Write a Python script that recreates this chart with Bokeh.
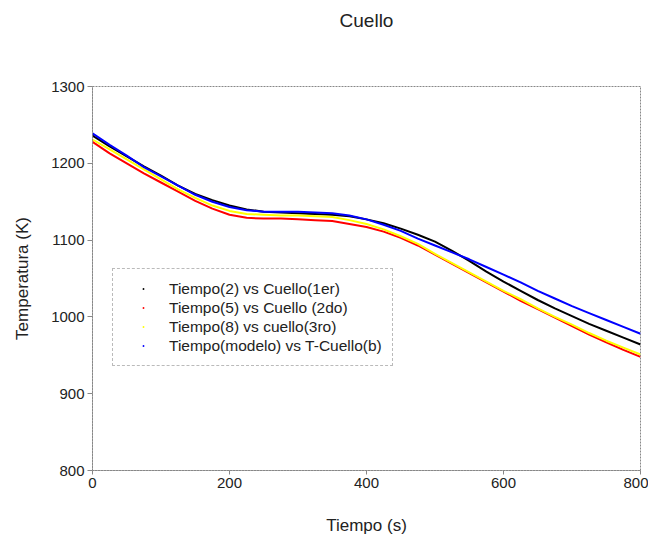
from bokeh.plotting import figure
from bokeh.models import Range1d, FixedTicker, Legend, LegendItem, Title
from bokeh.embed import file_html
from bokeh.resources import INLINE

# Data
tiempo = [0, 25, 50, 75, 100, 125, 150, 175, 200, 225, 250, 275, 300, 325, 350, 375, 400,
          425, 450, 475, 500, 525, 550, 575, 600, 625, 650, 675, 700, 725, 750, 775, 800]
cuello_1er = [1236, 1222, 1209, 1196, 1184, 1171, 1160, 1152, 1145, 1140, 1137, 1136, 1135, 1134, 1133, 1131, 1127,
              1122, 1115, 1107, 1098, 1086, 1073, 1059, 1046, 1034, 1022, 1011, 1001, 991, 982, 973, 964]
cuello_2do = [1228, 1213, 1200, 1187, 1175, 1163, 1151, 1141, 1133, 1129, 1128, 1128, 1127, 1126, 1125, 1121, 1117,
              1111, 1103, 1093, 1081, 1069, 1057, 1045, 1033, 1021, 1010, 999, 988, 977, 967, 957, 948]
cuello_3ro = [1231, 1218, 1205, 1192, 1179, 1166, 1155, 1145, 1138, 1134, 1133, 1132, 1132, 1131, 1130, 1126, 1121,
              1114, 1105, 1095, 1082, 1070, 1058, 1046, 1034, 1023, 1011, 1000, 990, 979, 969, 960, 951]
cuello_modelo = [1239, 1224, 1210, 1195, 1183, 1171, 1159, 1150, 1143, 1139, 1137, 1137, 1137, 1136, 1135, 1132, 1127,
                 1120, 1112, 1102, 1093, 1084, 1075, 1065, 1055, 1045, 1034, 1024, 1014, 1005, 996, 987, 978]

series_names = [
    "Tiempo(2) vs Cuello(1er)",
    "Tiempo(5) vs Cuello (2do)",
    "Tiempo(8) vs cuello(3ro)",
    "Tiempo(modelo) vs T-Cuello(b)",
]
series_colors = ["#000000", "#ff0000", "#ffff00", "#0000ff"]
series_values = [cuello_1er, cuello_2do, cuello_3ro, cuello_modelo]

x_ticks = [0, 200, 400, 600, 800]
y_ticks = [800, 900, 1000, 1100, 1200, 1300]

FONT = "Liberation Sans"
TXT = "#222222"

p = figure(
    frame_width=548, frame_height=384,
    min_border_left=92, min_border_right=8, min_border_top=86, min_border_bottom=60,
    x_range=Range1d(0, 800), y_range=Range1d(800, 1300),
    output_backend="svg", toolbar_location=None,
    background_fill_color="white", border_fill_color="white",
)

# inner spacer panel, then the visible title above it
spacer = Title(text=" ", text_font_size="1px", standoff=48)
p.add_layout(spacer, "above")
main_title = Title(text="Cuello", align="center", text_font=FONT, text_font_size="19px",
                   text_font_style="normal", text_color=TXT, standoff=10)
p.add_layout(main_title, "above")

p.grid.visible = False
p.outline_line_color = "#888888"
p.outline_line_dash = "2 1"
p.outline_line_width = 1

for ax in (p.xaxis[0], p.yaxis[0]):
    ax.axis_line_color = "#888888"
    ax.axis_line_dash = "2 1"
    ax.major_tick_line_color = "#888888"
    ax.minor_tick_line_color = None
    ax.major_tick_in = 0
    ax.major_label_text_font = FONT
    ax.major_label_text_font_size = "15px"
    ax.major_label_text_color = TXT
    ax.axis_label_text_font = FONT
    ax.axis_label_text_font_size = "17px"
    ax.axis_label_text_font_style = "normal"
    ax.axis_label_text_color = TXT

p.xaxis.ticker = FixedTicker(ticks=x_ticks)
p.yaxis.ticker = FixedTicker(ticks=y_ticks)
p.xaxis.major_tick_out = 4
p.yaxis.major_tick_out = 5
p.xaxis.major_label_standoff = 3
p.yaxis.major_label_standoff = 3
p.xaxis.axis_label = "Tiempo (s)"
p.yaxis.axis_label = "Temperatura (K)"
p.xaxis.axis_label_standoff = 25
p.yaxis.axis_label_standoff = 16

items = []
for name, color, vals in zip(series_names, series_colors, series_values):
    # legend swatch: a tiny dot at the series' first point (hidden under the line)
    dot = p.scatter(x=tiempo[:1], y=vals[:1], marker="dot", line_color=color,
                    fill_color=color, size=4)
    p.line(tiempo, vals, line_color=color, line_width=2)
    items.append(LegendItem(label=name, renderers=[dot]))

legend = Legend(
    items=items, location=(20, 104), margin=0, padding=10, spacing=0,
    glyph_width=40, glyph_height=19, label_height=19, label_standoff=6,
    label_text_font=FONT, label_text_font_size="15.5px", label_text_color=TXT,
    border_line_color="#777777", border_line_dash="1 1", border_line_width=1,
    background_fill_color="white", background_fill_alpha=1.0,
)
p.add_layout(legend, "center")

open("out.html", "w").write(file_html(p, INLINE))
